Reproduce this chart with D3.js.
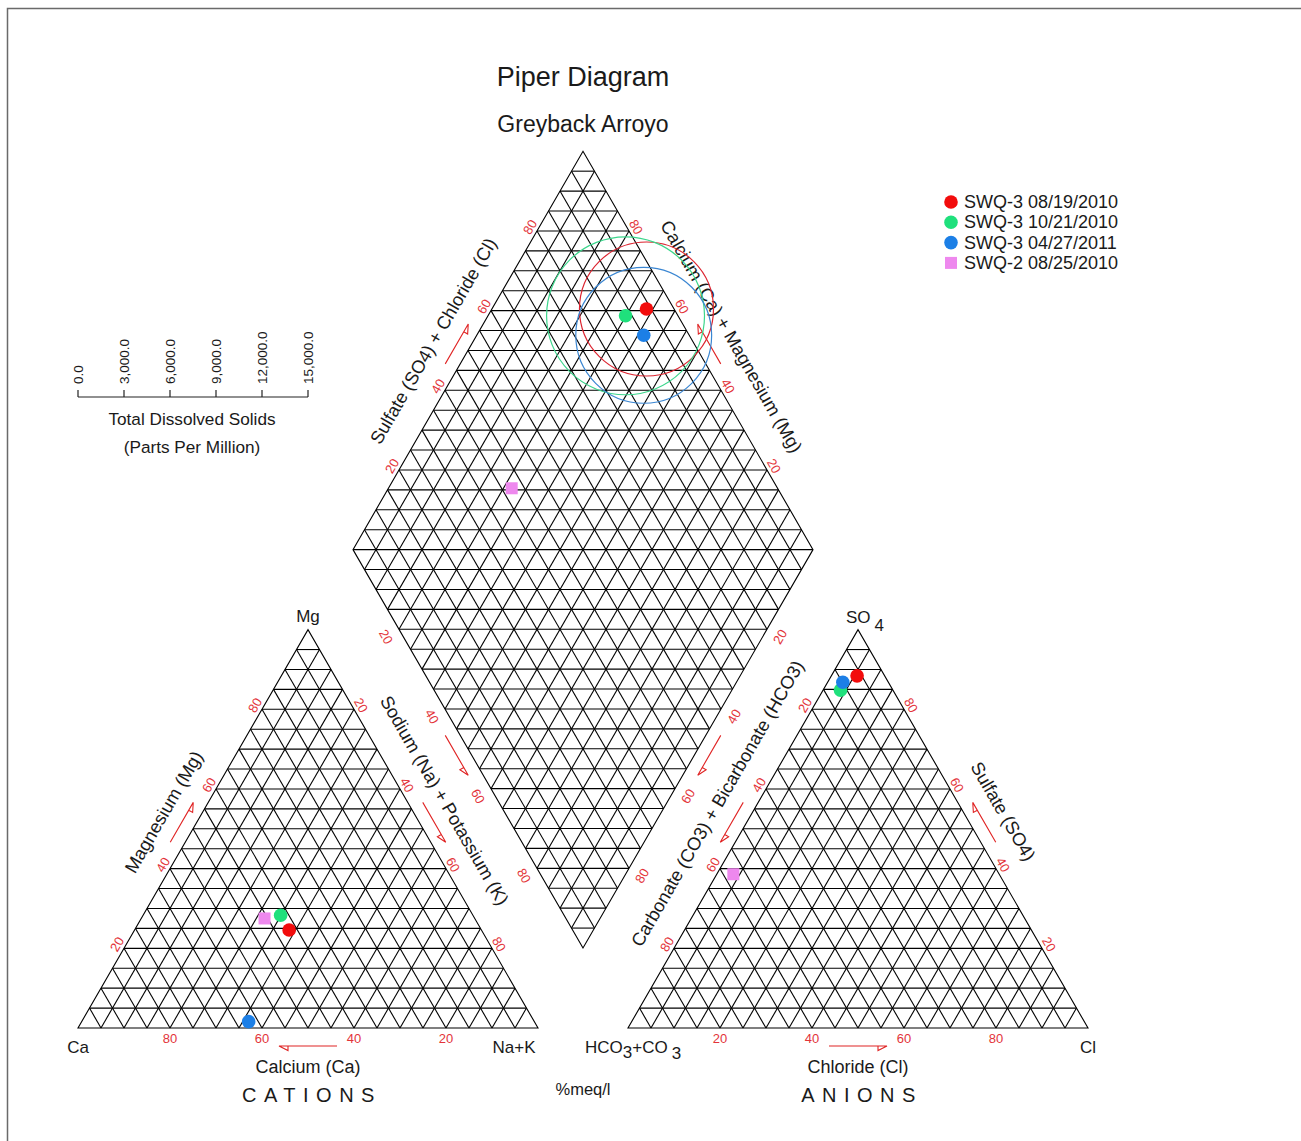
<!DOCTYPE html>
<html><head><meta charset="utf-8">
<script src="https://cdn.jsdelivr.net/npm/d3@7"></script>
<style>
html,body{margin:0;padding:0;background:#fff;}
svg{display:block;}
text{font-family:"Liberation Sans",Arial,Helvetica,sans-serif;fill:#1a1a1a;}
</style></head><body>
<svg id="chart" width="1301" height="1141"></svg>
<script>
// ---------- data ----------
const samples = ["SWQ-3 08/19/2010", "SWQ-3 10/21/2010", "SWQ-3 04/27/2011", "SWQ-2 08/25/2010"];
const markerColors = ["#f20c0c", "#1fe07c", "#1c7fe6", "#ee88ee"];
const circleColors = ["#dc2430", "#3cd68c", "#3a86d2", "#ee88ee"];
const markerShapes = ["circle", "circle", "circle", "square"];
// cations (% meq/l)
const calcium   = [41.8, 41.8, 62.1, 45.7];
const magnesium = [24.6, 28.3, 1.6, 27.5];
const sodiumK   = [33.6, 29.9, 36.3, 26.8];
// anions (% meq/l)
const bicarb    = [6.0, 11.4, 9.9, 57.8];
const sulfate   = [88.4, 84.8, 86.8, 38.6];
const chloride  = [5.6, 3.8, 3.3, 3.6];
// total dissolved solids (ppm)
const tdsValues = [4370, 5150, 4430, 300];
const tdsTicks = [0, 3000, 6000, 9000, 12000, 15000];
const pctTicks = [20, 40, 60, 80];

// ---------- layout ----------
const svg = d3.select("#chart");
const L = 460, H = L * Math.sqrt(3) / 2;
const xs = d3.scaleLinear().domain([0, 100]).range([0, L]);
const ys = d3.scaleLinear().domain([0, 100]).range([0, H]);
const baseY = 1028, catX = 78, anX = 628;
const dBX = 583, dBY = 948;
const tdsScale = d3.scaleLinear().domain([0, 15000]).range([78, 308]);

function tri(x0, r, t) { return [x0 + xs(r + t / 2), baseY - ys(t)]; }
function dia(a, b) { return [dBX + xs(b - a) / 2, dBY - ys(a + b)]; }

const line = d3.line();
const s3 = Math.sqrt(3) / 2;
const NL = [-s3, -0.5], NR = [s3, -0.5], NLL = [-s3, 0.5], NLR = [s3, 0.5];
const off = (p, n, d) => [p[0] + n[0] * d, p[1] + n[1] * d];

// border
svg.append("rect").attr("x", 7.5).attr("y", 8.5).attr("width", 1310).attr("height", 1150)
  .attr("fill", "none").attr("stroke", "#6a6a6a").attr("stroke-width", 1.5);

const grid = svg.append("g").attr("fill", "none").attr("stroke", "#000").attr("stroke-width", 1.1);

function triGrid(x0) {
  const segs = [];
  for (let k = 5; k < 100; k += 5) {
    segs.push([tri(x0, 0, k), tri(x0, 100 - k, k)]);
    segs.push([tri(x0, k, 0), tri(x0, k, 100 - k)]);
    segs.push([tri(x0, 100 - k, 0), tri(x0, 0, 100 - k)]);
  }
  segs.forEach(s => grid.append("path").attr("d", line(s)));
  grid.append("path").attr("d", line([tri(x0, 0, 0), tri(x0, 100, 0), tri(x0, 0, 100)]) + "Z");
}
triGrid(catX);
triGrid(anX);

// diamond grid
(function () {
  const segs = [];
  for (let k = 5; k < 100; k += 5) {
    segs.push([dia(k, 0), dia(k, 100)]);
    segs.push([dia(0, k), dia(100, k)]);
  }
  for (let s = 5; s < 200; s += 5) {
    if (s <= 100) segs.push([dia(s, 0), dia(0, s)]);
    else segs.push([dia(100, s - 100), dia(s - 100, 100)]);
  }
  segs.forEach(s => grid.append("path").attr("d", line(s)));
  grid.append("path").attr("d", line([dia(0, 0), dia(100, 0), dia(100, 100), dia(0, 100)]) + "Z");
})();

// ---------- labels ----------
const lab = svg.append("g");
function rtext(p, rot, txt, size, color) {
  return lab.append("text").attr("transform", `translate(${p[0]},${p[1]}) rotate(${rot})`)
    .attr("text-anchor", "middle").attr("dominant-baseline", "central")
    .style("font-size", size + "px").style("fill", color || "#1a1a1a").text(txt);
}
const tickRed = "#e3343a";
const TK = 13;
pctTicks.forEach(v => {
  // cation
  rtext([catX + xs(100 - v), baseY + 10], 0, v, TK, tickRed);
  rtext(off(tri(catX, 0, v), NL, 8), -60, v, TK, tickRed);
  rtext(off(tri(catX, v, 100 - v), NR, 8), 60, v, TK, tickRed);
  // anion
  rtext([anX + xs(v), baseY + 10], 0, v, TK, tickRed);
  rtext(off(tri(anX, 0, 100 - v), NL, 8), -60, v, TK, tickRed);
  rtext(off(tri(anX, 100 - v, v), NR, 8), 60, v, TK, tickRed);
  // diamond
  rtext(off(dia(100, v), NL, 8), -60, v, TK, tickRed);
  rtext(off(dia(v, 100), NR, 8), 60, v, TK, tickRed);
  rtext(off(dia(100 - v, 0), NLL, 15), 60, v, TK, tickRed);
  rtext(off(dia(0, 100 - v), NLR, 15), -60, v, TK, tickRed);
});

// arrows
const arrowG = svg.append("g").attr("fill", "none").attr("stroke", "#e02424").attr("stroke-width", 1.1);
function arrow(p0, p1) {
  const dx = p1[0] - p0[0], dy = p1[1] - p0[1], len = Math.hypot(dx, dy);
  const ux = dx / len, uy = dy / len;
  let px = -uy, py = ux;
  if (py < 0 || (Math.abs(py) < 1e-6 && px < 0)) { px = -px; py = -py; }
  const b = [p1[0] - ux * 9, p1[1] - uy * 9];
  arrowG.append("path").attr("d", line([p0, p1, [b[0] + px * 4.5, b[1] + py * 4.5], b]));
}
const AO = 13;
arrow([catX + L / 2 + 29, baseY + 18], [catX + L / 2 - 29, baseY + 18]);
arrow([anX + L / 2 - 29, baseY + 18], [anX + L / 2 + 29, baseY + 18]);
arrow(off(tri(catX, 0, 45), NL, AO), off(tri(catX, 0, 55), NL, AO));
arrow(off(tri(catX, 45, 55), NR, AO), off(tri(catX, 55, 45), NR, AO));
arrow(off(tri(anX, 0, 55), NL, AO), off(tri(anX, 0, 45), NL, AO));
arrow(off(tri(anX, 55, 45), NR, AO), off(tri(anX, 45, 55), NR, AO));
arrow(off(dia(100, 45), NL, AO), off(dia(100, 55), NL, AO));
arrow(off(dia(45, 100), NR, AO), off(dia(55, 100), NR, AO));
arrow(off(dia(55, 0), NLL, AO), off(dia(45, 0), NLL, AO));
arrow(off(dia(0, 55), NLR, AO), off(dia(0, 45), NLR, AO));

// axis titles
const TS = 18.3;
rtext(off(tri(catX, 0, 50), NL, 34), -60, "Magnesium (Mg)", TS);
rtext(off(tri(catX, 47, 53), NR, 33), 60, "Sodium (Na) + Potassium (K)", TS);
rtext(off(tri(anX, 0, 52), NL, 35), -60, "Carbonate (CO3) + Bicarbonate (HCO3)", TS);
rtext(off(tri(anX, 50, 50), NR, 35), 60, "Sulfate (SO4)", TS);
rtext(off(dia(100, 48), NL, 35), -60, "Sulfate (SO4) + Chloride (Cl)", TS);
rtext(off(dia(49, 100), NR, 36), 60, "Calcium (Ca) + Magnesium (Mg)", TS);
rtext([catX + L / 2, baseY + 39], 0, "Calcium (Ca)", 18);
rtext([anX + L / 2, baseY + 39], 0, "Chloride (Cl)", 18);

// vertex labels
rtext([catX + L / 2, baseY - H - 13], 0, "Mg", 17);
rtext([catX, baseY + 19], 0, "Ca", 17);
rtext([catX + L - 24, baseY + 19], 0, "Na+K", 17);
rtext([anX + L, baseY + 19], 0, "Cl", 17);
const so = lab.append("text").attr("x", anX + L / 2 - 12).attr("y", baseY - H - 7)
  .style("font-size", "17px").attr("text-anchor", "start");
so.append("tspan").text("SO");
so.append("tspan").attr("dx", 4).attr("dy", 8).text("4");
const hc = lab.append("text").attr("x", 585).attr("y", baseY + 25).style("font-size", "17px");
hc.append("tspan").text("HCO");
hc.append("tspan").attr("dy", 5).text("3");
hc.append("tspan").attr("dy", -5).text("+CO");
hc.append("tspan").attr("dx", 4).attr("dy", 6).text("3");

// group labels
lab.append("text").attr("x", catX + L / 2 + 4).attr("y", baseY + 74).attr("text-anchor", "middle")
  .style("font-size", "20px").style("letter-spacing", "7.5px").text("CATIONS");
lab.append("text").attr("x", anX + L / 2 + 4).attr("y", baseY + 74).attr("text-anchor", "middle")
  .style("font-size", "20px").style("letter-spacing", "7.5px").text("ANIONS");
rtext([583, 1089], 0, "%meq/l", 16.5);

// titles
rtext([583, 77], 0, "Piper Diagram", 27);
rtext([583, 124], 0, "Greyback Arroyo", 23);

// ---------- TDS scale ----------
const tdsG = svg.append("g");
const tdsAxisY = 397;
tdsG.append("path").attr("d", line([[tdsScale(0), tdsAxisY], [tdsScale(15000), tdsAxisY]]))
  .attr("stroke", "#222").attr("stroke-width", 1.2);
tdsTicks.forEach(t => {
  tdsG.append("path").attr("d", line([[tdsScale(t), tdsAxisY], [tdsScale(t), tdsAxisY - 7]]))
    .attr("stroke", "#222").attr("stroke-width", 1.2);
  tdsG.append("text").attr("transform", `translate(${tdsScale(t)},${tdsAxisY - 13}) rotate(-90)`)
    .attr("text-anchor", "start").attr("dominant-baseline", "central")
    .style("font-size", "13.5px").text(d3.format(",.1f")(t));
});
rtext([192, 419], 0, "Total Dissolved Solids", 17.2);
rtext([192, 447], 0, "(Parts Per Million)", 17.2);

// ---------- TDS circles in diamond ----------
const circG = svg.append("g").attr("fill", "none").attr("stroke-width", 1.2);
samples.forEach((s, i) => {
  const p = dia(100 - sodiumK[i], 100 - bicarb[i]);
  circG.append("circle").attr("cx", p[0]).attr("cy", p[1])
    .attr("r", tdsScale(tdsValues[i]) - tdsScale(0)).attr("stroke", circleColors[i]);
});

// ---------- points ----------
const ptG = svg.append("g");
function marker(g, p, i) {
  if (markerShapes[i] === "square") {
    g.append("rect").attr("x", p[0] - 6).attr("y", p[1] - 6).attr("width", 12).attr("height", 12)
      .attr("fill", markerColors[i]);
  } else {
    g.append("circle").attr("cx", p[0]).attr("cy", p[1]).attr("r", 6.8).attr("fill", markerColors[i]);
  }
}
samples.forEach((s, i) => {
  marker(ptG, tri(catX, sodiumK[i], magnesium[i]), i);
  marker(ptG, tri(anX, chloride[i], sulfate[i]), i);
  marker(ptG, dia(100 - sodiumK[i], 100 - bicarb[i]), i);
});

// ---------- legend ----------
const leg = svg.append("g");
samples.forEach((s, i) => {
  const y = 202 + i * 20.3;
  marker(leg, [951, y], i);
  leg.append("text").attr("x", 964).attr("y", y).attr("dominant-baseline", "central")
    .style("font-size", "18px").text(s);
});
</script></body></html>
